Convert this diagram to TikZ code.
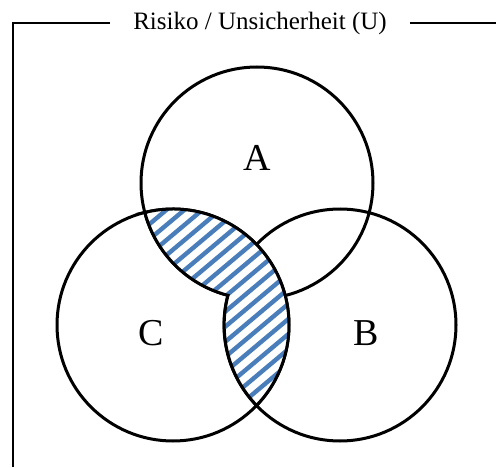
\documentclass[tikz,border=0pt]{standalone}
\usepackage{fontspec}
\setmainfont{Liberation Serif}
\usetikzlibrary{positioning,calc}
\definecolor{hatchblue}{RGB}{74,126,187}

% outline of the hatched part: C and (A or B)
\newcommand{\hatchpath}{(C.center) ++(104.1:116pt)
    arc[start angle=104.1, end angle=-43.9, radius=116pt]
    arc[start angle=223.9, end angle=165.2, radius=116pt]
    arc[start angle=255.5, end angle=194.7, radius=116pt] -- cycle}

\begin{document}
\begin{tikzpicture}[x=1pt, y=1pt,
        venn/.style={circle, draw, line width=3pt, minimum size=232pt, inner sep=0pt},
        letter/.style={font=\fontsize{38}{40}\selectfont},
        frame/.style={line width=2pt},
        stripe/.style={hatchblue, line width=4.4pt}]
        \useasboundingbox (0,0) rectangle (496,467);

        \node[font=\fontsize{25}{30}\selectfont, inner xsep=23pt] (title) at (260,444) {Risiko / Unsicherheit (U)};
        \draw[frame] (title.west) -| (13,0);
        \draw[frame] (title.east) -- (496,444);

        \node[venn] (A) at (257,284) {};
        \node[venn] (C) at (173,142) {};
        \node[venn] (B) at (340,142) {};

        % hatched overlap
        \begin{scope}
            \clip \hatchpath;
            \fill[white] (0,0) rectangle (496,467);
            \foreach \s in {-320,-302,...,320}
                \draw[stripe] (\s,0) -- ++(40:600);
        \end{scope}
        \draw[line width=3pt] \hatchpath;

        \node[letter] (la) at (257,309) {A};
        \node[letter] (lc) at (151,134) {C};
        \node[letter] (lb) at (366,134) {B};
    \end{tikzpicture}
\end{document}
